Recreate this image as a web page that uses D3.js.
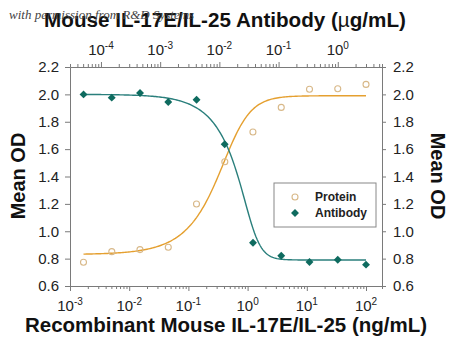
<!DOCTYPE html>
<html>
<head>
<meta charset="utf-8">
<script src="https://cdn.jsdelivr.net/npm/d3@7"></script>
<style>
  html, body { margin: 0; padding: 0; background: #fff; }
  svg { display: block; font-family: "Liberation Sans", Arial, sans-serif; }
  .axis path, .axis line { stroke: #7a7a7a; }
  .axis text { fill: #222; font-size: 15px; font-family: "Liberation Sans", Arial, sans-serif; }
  .title { font-family: "Liberation Sans", Arial, sans-serif; font-weight: 700; fill: #111; }
</style>
</head>
<body>
<svg id="chart" width="450" height="350"></svg>
<script>
// Recombinant mouse IL-17E/IL-25 dose series (ng/mL), 3-fold dilutions
const proteinConc = [0.00169, 0.00508, 0.0152, 0.0457, 0.137, 0.412, 1.23, 3.70, 11.1, 33.3, 100];
const proteinOD   = [0.773, 0.851, 0.866, 0.883, 1.199, 1.508, 1.725, 1.905, 2.037, 2.041, 2.073];

// Neutralizing antibody dose series (µg/mL), 3-fold dilutions
const antibodyConc = [0.0000508, 0.000152, 0.000457, 0.00137, 0.00412, 0.0123, 0.0370, 0.111, 0.333, 1, 3];
const antibodyOD   = [2.00, 1.976, 2.01, 1.944, 1.961, 1.635, 0.916, 0.821, 0.775, 0.792, 0.756];

// Five-parameter logistic fits (log10 of concentration in each series' own units)
const proteinFit  = { bottom: 0.83, top: 1.99, logC: -0.257, hill: 2.05, asym: 0.5 };
const antibodyFit = { bottom: 0.79, top: 2.00, logC: -1.430, hill: 3.8,  asym: 0.3 };

// Axis ticks
const yTicks      = [0.6, 0.8, 1.0, 1.2, 1.4, 1.6, 1.8, 2.0, 2.2];
const bottomTicks = [-3, -2, -1, 0, 1, 2];   // exponents, ng/mL
const topTicks    = [-4, -3, -2, -1, 0];     // exponents, µg/mL

// Antibody µg/mL plotted against protein ng/mL on a shared pixel span
const unitShift = 0.03;

const colors = { protein: "#e5a030", proteinPt: "#d8b888", antibody: "#2a7f7c", antibodyPt: "#0e6b5f" };

const svg = d3.select("#chart");
const m = { left: 70, right: 382, top: 67, bottom: 286 };

const x = d3.scaleLog().domain([1e-3, Math.pow(10, 2.27)]).range([m.left, m.right]);
const xTop = d3.scaleLog().domain(x.domain().map(d => d * unitShift)).range([m.left, m.right]);
const y = d3.scaleLinear().domain([0.6, 2.2]).range([m.bottom, m.top]);

function minorTicks(scale) {
  const [lo, hi] = scale.domain();
  const out = [];
  for (let e = Math.floor(Math.log10(lo)); e <= Math.ceil(Math.log10(hi)); e++) {
    for (let k = 1; k <= 9; k++) {
      const v = k * Math.pow(10, e);
      if (v >= lo * 0.999 && v <= hi * 1.001) out.push(v);
    }
  }
  return out;
}
const isDecade = d => Math.abs(Math.log10(d) - Math.round(Math.log10(d))) < 1e-6;

function powLabel(sel, exps, scale, yPos) {
  const t = sel.selectAll("text.pow").data(exps).join("text")
    .attr("class", "pow")
    .attr("x", d => scale(Math.pow(10, d)))
    .attr("y", yPos)
    .attr("text-anchor", "middle")
    .attr("fill", "#222")
    .style("font-size", "15px");
  t.append("tspan").text("10");
  t.append("tspan").attr("dy", -6).style("font-size", "10px").text(d => String(d));
}

// Scale a title's font size so its run spans the given width
function fitWidth(sel, width) {
  const fs = parseFloat(sel.style("font-size"));
  const w = sel.node().getComputedTextLength();
  if (w > 0) sel.style("font-size", (fs * width / w).toFixed(2) + "px");
}

// Bottom axis (log, ng/mL) with minor ticks
const gB = svg.append("g").attr("class", "axis").attr("transform", `translate(0,${m.bottom})`);
gB.call(d3.axisBottom(x).tickValues(minorTicks(x)).tickSizeOuter(0).tickSize(3).tickFormat(""));
gB.selectAll(".tick").filter(isDecade).select("line").attr("y2", 5);
powLabel(svg.append("g"), bottomTicks, x, 311);

// Top axis (log, µg/mL) with minor ticks
const gT = svg.append("g").attr("class", "axis").attr("transform", `translate(0,${m.top})`);
gT.call(d3.axisTop(xTop).tickValues(minorTicks(xTop)).tickSizeOuter(0).tickSize(3).tickFormat(""));
gT.selectAll(".tick").filter(isDecade).select("line").attr("y2", -5);
powLabel(svg.append("g"), topTicks, xTop, 55);

// Left and right OD axes
svg.append("g").attr("class", "axis").attr("transform", `translate(${m.left},0)`)
  .call(d3.axisLeft(y).tickValues(yTicks).tickSize(5).tickSizeOuter(0).tickPadding(6).tickFormat(d3.format(".1f")));
svg.append("g").attr("class", "axis").attr("transform", `translate(${m.right},0)`)
  .call(d3.axisRight(y).tickValues(yTicks).tickSize(4).tickSizeOuter(0).tickPadding(7).tickFormat(d3.format(".1f")));

// Fitted curves
function fiveP(p, logX, rising) {
  const g = Math.pow(1 + Math.pow(10, p.hill * (p.logC - logX)), -p.asym);
  return rising ? p.bottom + (p.top - p.bottom) * g : p.top - (p.top - p.bottom) * g;
}
function curve(conc, p, rising) {
  const lo = Math.log10(d3.min(conc)), hi = Math.log10(d3.max(conc));
  return d3.range(0, 201).map(i => {
    const lx = lo + (hi - lo) * i / 200;
    return [Math.pow(10, lx), fiveP(p, lx, rising)];
  });
}
svg.append("path")
  .datum(curve(proteinConc, proteinFit, true))
  .attr("fill", "none").attr("stroke", colors.protein).attr("stroke-width", 1.4)
  .attr("d", d3.line().x(d => x(d[0])).y(d => y(d[1])));
svg.append("path")
  .datum(curve(antibodyConc, antibodyFit, false))
  .attr("fill", "none").attr("stroke", colors.antibody).attr("stroke-width", 1.4)
  .attr("d", d3.line().x(d => xTop(d[0])).y(d => y(d[1])));

// Data points
svg.append("g").selectAll("circle").data(proteinConc).join("circle")
  .attr("cx", d => x(d)).attr("cy", (d, i) => y(proteinOD[i])).attr("r", 3)
  .attr("fill", "none").attr("stroke", colors.proteinPt).attr("stroke-width", 1.1);
const diamond = d3.symbol().type(d3.symbolDiamond2).size(40);
svg.append("g").selectAll("path").data(antibodyConc).join("path")
  .attr("transform", (d, i) => `translate(${xTop(d)},${y(antibodyOD[i])})`)
  .attr("d", diamond).attr("fill", colors.antibodyPt);

// Legend
const lg = svg.append("g");
lg.append("rect").attr("x", 274).attr("y", 183).attr("width", 102).attr("height", 44)
  .attr("fill", "#fff").attr("stroke", "#888").attr("stroke-width", 1);
lg.append("circle").attr("cx", 295).attr("cy", 197).attr("r", 3)
  .attr("fill", "none").attr("stroke", colors.proteinPt).attr("stroke-width", 1.1);
lg.append("path").attr("transform", "translate(295,213)").attr("d", diamond).attr("fill", colors.antibodyPt);
lg.append("text").attr("x", 315).attr("y", 201).text("Protein")
  .style("font-size", "12px").style("font-weight", "bold").attr("fill", "#222");
lg.append("text").attr("x", 315).attr("y", 217).text("Antibody")
  .style("font-size", "12px").style("font-weight", "bold").attr("fill", "#222");

// Titles
const topTitle = svg.append("text").attr("class", "title").attr("x", 225).attr("y", 27)
  .attr("text-anchor", "middle").style("font-size", "20.5px");
topTitle.append("tspan").text("Mouse IL-17E/IL-25 Antibody (");
topTitle.append("tspan").style("font-weight", "400").text("µ");
topTitle.append("tspan").text("g/mL)");
fitWidth(topTitle, 362);

const bottomTitle = svg.append("text").attr("class", "title").attr("x", 226).attr("y", 332)
  .attr("text-anchor", "middle").style("font-size", "20.5px")
  .text("Recombinant Mouse IL-17E/IL-25 (ng/mL)");
fitWidth(bottomTitle, 402);

svg.append("text").attr("class", "title").attr("transform", "translate(25,176) rotate(-90)")
  .attr("text-anchor", "middle").style("font-size", "20px").text("Mean OD");
svg.append("text").attr("class", "title").attr("transform", "translate(431,176) rotate(90)")
  .attr("text-anchor", "middle").style("font-size", "20px").text("Mean OD");

// Credit line
svg.append("text").attr("x", 9).attr("y", 19)
  .style("font-family", "'Liberation Serif', 'DejaVu Serif', serif")
  .style("font-style", "italic").style("font-size", "13px").attr("fill", "#444")
  .text("with permission from R&D Systems");
</script>
</body>
</html>
